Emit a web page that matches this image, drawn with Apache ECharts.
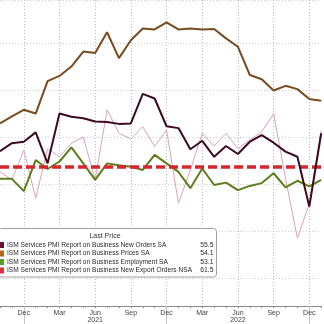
<!DOCTYPE html>
<html>
<head>
<meta charset="utf-8">
<script src="https://cdn.jsdelivr.net/npm/echarts@6/dist/echarts.min.js"></script>
<style>html,body{margin:0;padding:0;background:#fff}#c{width:324px;height:324px}</style>
</head>
<body>
<div id="c"></div>
<script>
const months = ['2020-10','2020-11','2020-12','2021-01','2021-02','2021-03','2021-04','2021-05','2021-06','2021-07','2021-08','2021-09','2021-10','2021-11','2021-12','2022-01','2022-02','2022-03','2022-04','2022-05','2022-06','2022-07','2022-08','2022-09','2022-10','2022-11','2022-12','2023-01'];
const newOrders = [57.1,58.8,59.1,61.1,54.5,65.1,64.4,64.1,63.4,63.3,62.9,63.0,69.3,68.3,62.4,62.0,57.5,59.3,55.9,58.2,56.5,59.1,60.5,58.9,57.0,55.9,45.3,60.9];
const prices = [63.0,64.5,65.9,65.1,72.0,73.1,75.1,78.3,78.0,82.4,76.9,80.7,83.2,83.0,84.5,83.0,83.2,83.0,83.1,81.1,79.3,73.3,72.4,70.0,71.0,70.3,68.2,67.8];
const employment = [51.2,51.2,48.6,55.2,53.3,54.9,57.9,54.5,51.0,54.5,54.1,53.8,53.1,56.3,54.5,52.7,49.2,53.4,49.9,50.4,48.8,49.7,50.3,52.4,49.4,50.8,49.6,51.0];
const exportOrders = [52.7,51.0,57.3,47.1,57.6,55.9,58.8,60.1,51.0,65.9,60.9,59.7,62.3,58.1,61.6,46.0,53.1,60.9,58.2,60.9,57.6,59.5,61.2,65.1,51.3,38.6,45.9,61.5];
const threshold = 53.8;
const legendTitle = 'Last Price';
const legendNames = ['ISM Services PMI Report on Business New Orders SA','ISM Services PMI Report on Business Prices SA','ISM Services PMI Report on Business Employment SA','ISM Services PMI Report on Business New Export Orders NSA'];
const lastValues = ['55.5','54.1','53.1','61.5'];
const monthNames = ['Jan','Feb','Mar','Apr','May','Jun','Jul','Aug','Sep','Oct','Nov','Dec'];

const swatchColors = ['#6a0f2a','#b5651d','#5a9e2a','#e0303a'];
const FONT = '"Liberation Sans", Arial, sans-serif';

function mon(v){ return parseInt(v.split('-')[1],10); }
function isQuarter(i,v){ const m = mon(v); return m===12||m===3||m===6||m===9; }
function isDec(i,v){ return mon(v)===12; }

const chart = echarts.init(document.getElementById('c'), null, {renderer:'canvas'});

const graphic = [];
graphic.push({type:'rect', z:100, shape:{x:-1.5,y:228.5,width:218,height:48.5,r:3}, style:{fill:'#fff',stroke:'#a0a0a0',lineWidth:1}});
graphic.push({type:'text', z:101, style:{text:legendTitle, x:105, y:236, textAlign:'center', textVerticalAlign:'middle', font:'7px '+FONT, fill:'#333'}});
const rowY = [245,253.5,262,270.5];
for (let i=0;i<4;i++){
  graphic.push({type:'rect', z:101, shape:{x:-1,y:rowY[i]-3,width:5,height:6}, style:{fill:swatchColors[i]}});
  graphic.push({type:'text', z:101, style:{text:legendNames[i], x:7, y:rowY[i], textAlign:'left', textVerticalAlign:'middle', font:'6.6px '+FONT, fill:'#2a2a2a'}});
  graphic.push({type:'text', z:101, style:{text:lastValues[i], x:213.5, y:rowY[i], textAlign:'right', textVerticalAlign:'middle', font:'6.8px '+FONT, fill:'#2a2a2a'}});
}

const option = {
  animation:false,
  backgroundColor:'#fff',
  grid:{left:-2.3, right:2.8, top:0, bottom:18, containLabel:false},
  xAxis:[{
    type:'category', data:months, boundaryGap:false,
    axisLine:{show:true, lineStyle:{color:'#8a8a8a', width:1}},
    axisTick:{show:true, interval:0, length:2, lineStyle:{color:'#8a8a8a'}},
    axisLabel:{interval:isQuarter, margin:3, fontSize:7, fontFamily:FONT, color:'#444', lineHeight:7.5,
      formatter:function(v){ const m=mon(v); const y=v.split('-')[0]; return m===6 ? monthNames[m-1]+'\n'+y : monthNames[m-1]; }},
    splitLine:{show:true, interval:isQuarter, lineStyle:{type:[1,2], color:'#bdbdbd', width:1}}
  },{
    type:'category', data:months, boundaryGap:false, position:'bottom',
    axisLine:{show:false},
    axisTick:{show:true, interval:isDec, length:18, lineStyle:{color:'#c4c4c4'}},
    axisLabel:{show:false}, splitLine:{show:false}
  }],
  yAxis:{type:'value', min:24.15, max:89.26, splitNumber:6,
    axisLine:{show:false}, axisTick:{show:false}, axisLabel:{show:false},
    splitLine:{show:true, lineStyle:{type:[1,2], color:'#cdcdcd', width:1}}},
  graphic:graphic,
  series:[
    {type:'line', name:legendNames[3], data:exportOrders, z:2, symbol:'none', lineStyle:{color:'#d9a3b3', width:1}},
    {type:'line', name:legendNames[2], data:employment, z:3, symbol:'none', lineStyle:{color:'#5e7d1c', width:2}},
    {type:'line', name:'threshold', data:[], z:4, silent:true,
      markLine:{silent:true, symbol:'none', label:{show:false}, emphasis:{disabled:true}, lineStyle:{type:[9,4], color:'#d8262f', width:3.5},
        data:[{yAxis:threshold}]}},
    {type:'line', name:legendNames[1], data:prices, z:5, symbol:'none', lineStyle:{color:'#7a4a20', width:2}},
    {type:'line', name:legendNames[0], data:newOrders, z:6, symbol:'none', lineStyle:{color:'#3d0b1c', width:2}}
  ]
};
chart.setOption(option);
</script>
</body>
</html>
